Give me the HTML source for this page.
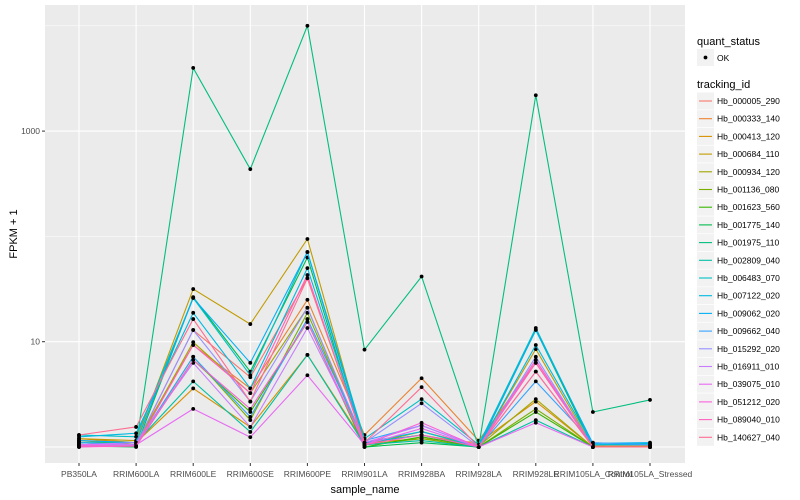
<!DOCTYPE html>
<html><head><meta charset="utf-8"><style>
body{margin:0;background:#fff;}
svg{display:block;font-family:"Liberation Sans",sans-serif;}
</style></head><body>
<svg id="chart" width="800" height="500"></svg>
<script>
const categories=["PB350LA","RRIM600LA","RRIM600LE","RRIM600SE","RRIM600PE","RRIM901LA","RRIM928BA","RRIM928LA","RRIM928LE","RRIM105LA_Control","RRIM105LA_Stressed"];
const seriesNames=["Hb_000005_290","Hb_000333_140","Hb_000413_120","Hb_000684_110","Hb_000934_120","Hb_001136_080","Hb_001623_560","Hb_001775_140","Hb_001975_110","Hb_002809_040","Hb_006483_070","Hb_007122_020","Hb_009062_020","Hb_009662_040","Hb_015292_020","Hb_016911_010","Hb_039075_010","Hb_051212_020","Hb_089040_010","Hb_140627_040"];
const seriesColors=["#F8766D","#EA8331","#D89000","#C09B00","#A3A500","#7CAE00","#39B600","#00BB4E","#00BF7D","#00C1A3","#00BFC4","#00BAE0","#00B0F6","#35A2FF","#9590FF","#C77CFF","#E76BF3","#FA62DB","#FF62BC","#FF6C91"];
const s0=[1.1,1.05,12.9,4.6,40,1.1,1.3,1.05,6.7,1.0,1.0];
const s1=[1.15,1.1,9.3,3.6,25,1.3,4.5,1.15,6.3,1.02,1.02];
const s2=[1.2,1.1,3.6,1.55,7.5,1.1,1.2,1.1,2.7,1.0,1.0];
const s3=[1.2,1.15,31.6,14.7,94.5,1.1,1.3,1.02,8.5,1.0,1.0];
const s4=[1.15,1.05,9.9,3.25,21,1.05,1.4,1.02,2.85,1.0,1.0];
const s5=[1.1,1.05,7.2,1.8,18.8,1.05,1.2,1.0,2.3,1.0,1.0];
const s6=[1.05,1.02,6.7,2.15,15.4,1.0,1.25,1.0,2.15,1.0,1.0];
const s7=[1.02,1.0,26.5,5.2,63,1.0,1.1,1.0,12.9,1.0,1.0];
const s8=[1.0,1.05,3981,435,10000,8.4,41.6,1.0,2190,2.15,2.8];
const s9=[1.1,1.1,4.2,1.39,7.5,1.05,1.15,1.0,1.8,1.0,1.0];
const s10=[1.3,1.25,26,4.8,71,1.2,2.85,1.05,13.5,1.05,1.08];
const s11=[1.25,1.35,18.8,3.6,50,1.1,1.4,1.0,9.3,1.05,1.05];
const s12=[1.15,1.1,26,6.3,71,1.1,1.3,1.0,12.9,1.08,1.1];
const s13=[1.1,1.05,7.2,1.93,16.4,1.15,1.6,1.0,4.2,1.1,1.05];
const s14=[1.05,1.05,12.9,2.7,21,1.1,2.6,1.0,7.2,1.0,1.0];
const s15=[1.05,1.1,6.3,1.55,13.5,1.1,1.6,1.0,5.2,1.0,1.0];
const s16=[1.05,1.05,2.3,1.24,4.8,1.05,1.5,1.0,1.7,1.0,1.0];
const s17=[1.0,1.02,6.7,2.3,15.4,1.05,1.7,1.0,6.7,1.0,1.0];
const s18=[1.02,1.02,9.3,3.25,43,1.05,1.3,1.0,6.3,1.0,1.0];
const s19=[1.3,1.55,16.4,2.7,40,1.1,3.7,1.0,5.2,1.0,1.0];
const seriesValues=[s0,s1,s2,s3,s4,s5,s6,s7,s8,s9,s10,s11,s12,s13,s14,s15,s16,s17,s18,s19];
const yTickValues=[10,1000];
const yGridValues=[1,10,100,1000,10000];

const NS="http://www.w3.org/2000/svg";
const svg=document.getElementById('chart');
function mk(tag,attrs,parent){const e=document.createElementNS(NS,tag);for(const k in attrs)e.setAttribute(k,attrs[k]);(parent||svg).appendChild(e);return e;}
const PL=45,PR=685,PT=5,PB=463;
function xScale(i){return 79+57.1*i;}
function yScale(v){return 447-105.3*Math.log10(v);}

const panel=mk('rect',{x:PL,y:PT,width:PR-PL,height:PB-PT,fill:'#EBEBEB'});


yGridValues.forEach(v=>{
  const l=mk('line',{x1:PL,x2:PR,y1:yScale(v),y2:yScale(v),stroke:'#fff','stroke-width':(v===10||v===1000||v===1)?1.1:0.5});
  
  
});
categories.forEach((c,i)=>{
  const l=mk('line',{x1:xScale(i),x2:xScale(i),y1:PT,y2:PB,stroke:'#fff','stroke-width':1.1});
  
  
  const t=mk('line',{x1:xScale(i),x2:xScale(i),y1:PB,y2:PB+3,stroke:'#333'});
  
  
  const tx=mk('text',{x:xScale(i),y:PB+14,'text-anchor':'middle','font-size':8.5,fill:'#4D4D4D'});
  tx.textContent=c;
  
  
});
yTickValues.forEach(v=>{
  const t=mk('line',{x1:PL-3,x2:PL,y1:yScale(v),y2:yScale(v),stroke:'#333'});
  
  
  const tx=mk('text',{x:PL-5,y:yScale(v)+3,'text-anchor':'end','font-size':8.5,fill:'#4D4D4D'});
  tx.textContent=String(v);
  
  
});
seriesValues.forEach((vals,si)=>{
  const g=mk('g',{});
  
  
  const pts=vals.map((v,i)=>xScale(i)+','+yScale(v)).join(' ');
  const pl=mk('polyline',{points:pts,fill:'none',stroke:seriesColors[si],'stroke-width':1.1},g);
  
  
  vals.forEach((v,i)=>{
    const c=mk('circle',{cx:xScale(i),cy:yScale(v),r:1.9,fill:'#000'},g);
    
    
  });
});
const xt=mk('text',{x:(PL+PR)/2,y:493,'text-anchor':'middle','font-size':11,fill:'#000'});
xt.textContent='sample_name';


const yt=mk('text',{x:0,y:0,transform:'translate(17,234) rotate(-90)','text-anchor':'middle','font-size':11,fill:'#000'});
yt.textContent='FPKM + 1';



// legend
const lg=mk('g',{});


const qt=mk('text',{x:697,y:45,'font-size':11,fill:'#000'},lg);
qt.textContent='quant_status';


const qk=mk('rect',{x:697,y:49,width:17,height:17,fill:'#F2F2F2'},lg);


mk('circle',{cx:705.5,cy:57.5,r:1.9,fill:'#000'},lg);
const ok=mk('text',{x:717,y:61,'font-size':8.5,fill:'#000'},lg);
ok.textContent='OK';


const tt=mk('text',{x:697,y:88,'font-size':11,fill:'#000'},lg);
tt.textContent='tracking_id';


seriesNames.forEach((n,i)=>{
  const y=101+17.7*i;
  const e=mk('g',{},lg);
  
  
  mk('rect',{x:697,y:y-8.5,width:17,height:17,fill:'#F2F2F2'},e);
  mk('line',{x1:699,x2:712,y1:y,y2:y,stroke:seriesColors[i],'stroke-width':1.1},e);
  const t=mk('text',{x:717,y:y+3,'font-size':8.5,fill:'#000'},e);
  t.textContent=n;
});
</script>
</body></html>
